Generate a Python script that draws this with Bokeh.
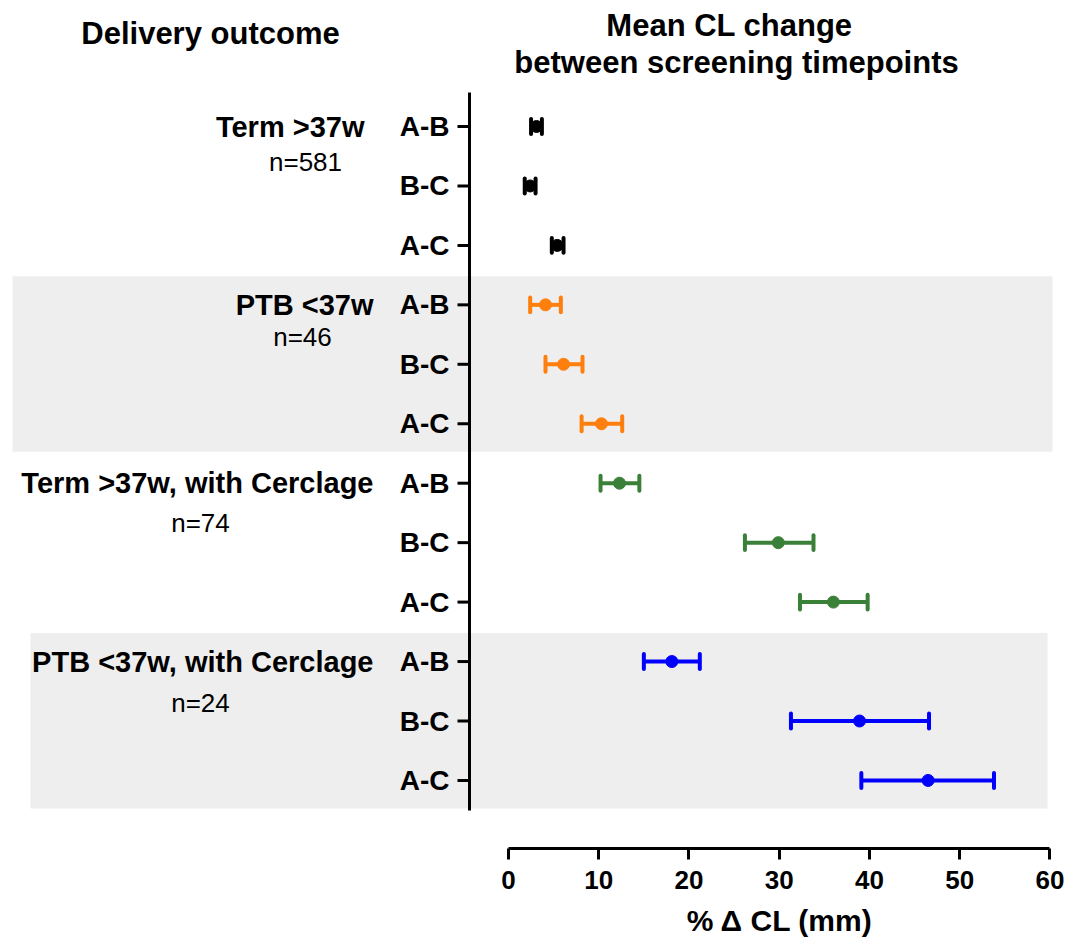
from bokeh.plotting import figure
from bokeh.models import ColumnDataSource, Range1d, FixedTicker, Title
from bokeh.core.properties import value
from bokeh.embed import file_html
from bokeh.resources import INLINE

# ---------------- data ----------------
groups = ["Term >37w", "PTB <37w", "Term >37w, with Cerclage", "PTB <37w, with Cerclage"]
group_n = ["n=581", "n=46", "n=74", "n=24"]
intervals = ["A-B", "B-C", "A-C"]
group_colors = ["#000000", "#ff7f0e", "#3b8038", "#0000ff"]

mean_term = [3.1, 2.4, 5.4]
lower_term = [2.5, 1.8, 4.8]
upper_term = [3.7, 3.0, 6.1]

mean_ptb = [4.1, 6.1, 10.3]
lower_ptb = [2.4, 4.1, 8.1]
upper_ptb = [5.8, 8.2, 12.6]

mean_term_cerc = [12.3, 29.9, 36.0]
lower_term_cerc = [10.2, 26.2, 32.3]
upper_term_cerc = [14.5, 33.8, 39.8]

mean_ptb_cerc = [18.1, 38.9, 46.5]
lower_ptb_cerc = [15.0, 31.3, 39.1]
upper_ptb_cerc = [21.2, 46.6, 53.8]

x_ticks = [0, 10, 20, 30, 40, 50, 60]
x_title = "% Δ CL (mm)"
left_title = "Delivery outcome"
right_title = ["Mean CL change", "between screening timepoints"]

means = [mean_term, mean_ptb, mean_term_cerc, mean_ptb_cerc]
lowers = [lower_term, lower_ptb, lower_term_cerc, lower_ptb_cerc]
uppers = [upper_term, upper_ptb, upper_term_cerc, upper_ptb_cerc]

# ---------------- layout ----------------
PX0 = 508.0      # px of x = 0
PXU = 9.024      # px per x unit
ROW0 = 126.0     # px of first row
ROWH = 59.45     # px per row
FRAME_W, FRAME_H = 1070, 848
FONT = "Liberation Sans"


def dx(px):
    return (px - PX0) / PXU


def dy(py):
    return (py - ROW0) / ROWH


p = figure(frame_width=FRAME_W, frame_height=FRAME_H,
           x_range=Range1d(dx(0), dx(FRAME_W)),
           y_range=Range1d(dy(FRAME_H), dy(0)),
           output_backend="svg", toolbar_location=None,
           y_axis_location=None, x_axis_location="below",
           min_border_left=0, min_border_right=0, min_border_top=0, min_border_bottom=0)
p.outline_line_color = None
p.xgrid.visible = False
p.ygrid.visible = False
p.background_fill_color = "white"
p.border_fill_color = "white"

# gray bands behind groups 2 and 4
band_left_px = [12, 30]
band_right_px = [1052, 1047]
band_groups = [1, 3]
p.quad(left=[dx(v) for v in band_left_px], right=[dx(v) for v in band_right_px],
       top=[g * 3 - 0.48 for g in band_groups], bottom=[g * 3 + 2 + 0.47 for g in band_groups],
       fill_color="#eeeeee", line_color=None)

# rows
rows, row_lab, mu, lo, hi, col = [], [], [], [], [], []
for gi in range(len(groups)):
    for ii, lab in enumerate(intervals):
        rows.append(gi * 3 + ii)
        row_lab.append(lab)
        mu.append(means[gi][ii])
        lo.append(lowers[gi][ii])
        hi.append(uppers[gi][ii])
        col.append(group_colors[gi])

src = ColumnDataSource(dict(y=rows, lab=row_lab, mu=mu, lo=lo, hi=hi, col=col,
                            ylo=[r - 0.125 for r in rows], yhi=[r + 0.125 for r in rows]))

# vertical category axis
p.segment(x0=[dx(469)], x1=[dx(469)], y0=[dy(92)], y1=[dy(810)], line_color="black", line_width=3)
p.segment(x0=dx(457), x1=dx(469), y0="y", y1="y", source=src, line_color="black", line_width=3)
p.text(x=dx(449), y="y", text="lab", source=src, text_align="right", text_baseline="middle",
       text_font=value(FONT), text_font_style="bold", text_font_size="28px", text_color="black")

# error bars
p.segment(x0="lo", x1="hi", y0="y", y1="y", source=src, line_color="col", line_width=4)
p.segment(x0="lo", x1="lo", y0="ylo", y1="yhi", source=src, line_color="col", line_width=4, line_cap="round")
p.segment(x0="hi", x1="hi", y0="ylo", y1="yhi", source=src, line_color="col", line_width=4, line_cap="round")
p.scatter(x="mu", y="y", source=src, size=12, fill_color="col", line_color="col")

# group labels
grp_right_px = [364, 373, 373, 373]
n_center_px = [305, 302, 200, 200]
n_offset = [0.6, 0.54, 0.67, 0.7]
gsrc = ColumnDataSource(dict(x=[dx(v) for v in grp_right_px], y=[g * 3 for g in range(len(groups))], t=groups))
nsrc = ColumnDataSource(dict(x=[dx(v) for v in n_center_px],
                             y=[g * 3 + n_offset[g] for g in range(len(groups))], t=group_n))
p.text(x="x", y="y", text="t", source=gsrc, text_align="right", text_baseline="middle",
       text_font=value(FONT), text_font_style="bold", text_font_size="29px", text_color="black")
p.text(x="x", y="y", text="t", source=nsrc, text_align="center", text_baseline="middle",
       text_font=value(FONT), text_font_size="26px", text_color="black")

# titles
p.text(x=[dx(210)], y=[dy(33)], text=[left_title], text_align="center", text_baseline="middle",
       text_font=value(FONT), text_font_style="bold", text_font_size="31px", text_color="black")
p.text(x=[dx(729), dx(736)], y=[dy(25), dy(62)], text=right_title, text_align="center",
       text_baseline="middle", text_font=value(FONT), text_font_style="bold",
       text_font_size="31px", text_color="black")

# x axis
ax = p.xaxis[0]
ax.ticker = FixedTicker(ticks=x_ticks)
ax.bounds = (0, 60)
ax.axis_line_width = 3
ax.axis_line_color = "black"
ax.major_tick_line_width = 3
ax.major_tick_line_color = "black"
ax.major_tick_out = 11
ax.major_tick_in = 0
ax.minor_tick_out = 0
ax.minor_tick_in = 0
ax.major_label_standoff = 11
ax.major_label_text_font = FONT
ax.major_label_text_font_style = "bold"
ax.major_label_text_font_size = "26px"
ax.major_label_text_color = "black"

# axis title centred on the axis span (0..60); text width ~185 px at 30px bold
axis_mid_px = (PX0 + (PX0 + 60 * PXU)) / 2.0
title_w = 185
p.add_layout(Title(text=x_title, align="left", offset=axis_mid_px - title_w / 2.0,
                   text_font=FONT, text_font_style="bold", text_font_size="30px",
                   text_color="black", standoff=21), "below")

open("out.html", "w").write(file_html(p, INLINE))
